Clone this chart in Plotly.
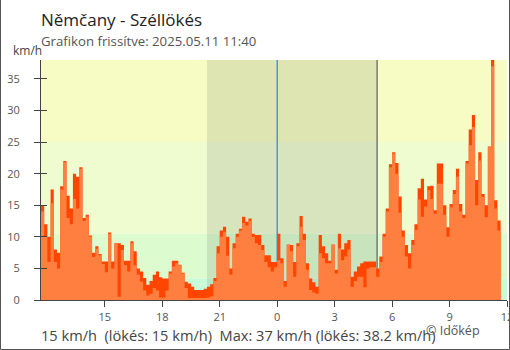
import pandas as pd
import plotly.graph_objects as go

# --- station / chart texts ---------------------------------------------------
TITLE = "Němčany - Széllökés"
SUBTITLE = "Grafikon frissítve: 2025.05.11 11:40"
UNIT = "km/h"
FOOTER = "15 km/h  (lökés: 15 km/h)  Max: 37 km/h (lökés: 38.2 km/h)"
CREDIT = "© Időkép"

# --- measurements: 10-minute steps starting at 2025-05-10 11:40 (km/h) -------
start_time = "2025-05-10 11:40"
step = "10min"

wind = [
    14.0, 10.0, 6.0, 15.3, 6.0, 5.0, 17.5, 21.8, 13.0, 12.0,
    16.0, 14.5, 20.8, 12.5, 13.2, 10.0, 6.8, 8.1, 7.1, 5.7,
    4.4, 10.5, 5.0, 8.9, 0.5, 7.9, 5.5, 4.5, 9.0, 5.5,
    4.0, 2.9, 1.5, 0.7, 1.0, 1.9, 1.5, 0.4, 0.4, 1.5,
    4.2, 5.3, 5.8, 5.5, 4.2, 1.9, 0.3, 0.3, 0.3, 0.3,
    0.3, 0.3, 0.4, 0.6, 3.0, 7.4, 10.0, 10.8, 7.0, 4.0,
    8.2, 10.0, 11.0, 12.2, 11.8, 12.5, 10.0, 9.0, 8.7, 7.9,
    6.0, 5.2, 4.5, 5.2, 6.3, 5.8, 2.1, 8.7, 7.7, 3.7,
    8.5, 11.6, 9.5, 4.8, 1.6, 1.2, 1.0, 7.4, 6.6, 5.8,
    5.8, 8.7, 4.2, 8.2, 6.3, 6.9, 8.0, 2.1, 3.0, 3.7,
    3.7, 2.0, 5.0, 5.2, 5.2, 3.7, 6.0, 10.0, 14.0, 21.0,
    23.2, 20.0, 13.8, 10.0, 6.9, 5.0, 8.7, 11.1, 15.9, 13.2,
    14.8, 17.4, 16.0, 13.7, 18.4, 18.4, 13.5, 10.0, 14.7, 16.8,
    19.5, 14.0, 13.0, 21.6, 24.5, 27.4, 15.0, 22.1, 16.3, 13.1,
    24.2, 37.0, 14.5, 11.0,
]

gust = [
    15.0, 12.0, 10.0, 17.5, 8.0, 7.5, 18.0, 22.0, 16.5, 14.5,
    20.0, 19.5, 21.0, 13.0, 13.5, 10.2, 7.5, 8.5, 7.3, 6.1,
    6.1, 10.7, 6.1, 9.0, 9.0, 8.7, 6.2, 6.2, 9.3, 7.7,
    5.0, 4.5, 3.5, 2.4, 3.0, 4.0, 4.5, 3.6, 3.4, 3.4,
    4.5, 6.2, 6.2, 5.6, 4.3, 2.9, 2.6, 2.1, 1.6, 1.6,
    1.6, 1.8, 2.1, 2.5, 3.5, 8.5, 11.0, 11.6, 10.0, 5.0,
    9.0, 10.5, 11.3, 13.2, 12.4, 12.9, 10.5, 10.3, 10.3, 8.7,
    7.1, 7.1, 6.0, 6.0, 10.5, 6.6, 3.0, 8.8, 8.7, 6.0,
    9.0, 13.3, 10.5, 5.8, 3.4, 2.8, 2.1, 10.3, 8.5, 7.4,
    6.2, 8.8, 4.8, 10.5, 8.0, 9.0, 9.5, 3.7, 4.5, 5.3,
    5.8, 6.1, 6.1, 6.1, 6.1, 5.0, 6.9, 10.5, 14.5, 21.5,
    23.4, 21.7, 16.4, 11.0, 8.7, 7.4, 9.5, 12.0, 17.7, 19.2,
    15.9, 18.0, 18.1, 14.2, 21.6, 21.6, 15.0, 11.5, 15.2, 17.4,
    20.8, 15.2, 13.5, 22.0, 27.0, 29.3, 19.0, 23.4, 16.8, 15.0,
    24.3, 38.2, 15.8, 12.6,
]

# --- background wind-strength bands (km/h) ------------------------------------
band_edges = [0, 3.4, 10.5, 25, 38]
band_colors = ["#C8FCD8", "#DCFCD0", "#EEFCD0", "#F6FCC4"]

# --- day / night markers ------------------------------------------------------
sunset = "2025-05-10 20:20"
midnight = "2025-05-11 00:00"
sunrise = "2025-05-11 05:13"

# --- axes ---------------------------------------------------------------------
x_range = ["2025-05-10 11:40", "2025-05-11 12:00"]
x_tick_vals = [
    "2025-05-10 15:00", "2025-05-10 18:00", "2025-05-10 21:00",
    "2025-05-11 00:00", "2025-05-11 03:00", "2025-05-11 06:00",
    "2025-05-11 09:00", "2025-05-11 12:00",
]
x_tick_text = ["15", "18", "21", "0", "3", "6", "9", "12"]
y_tick_vals = [0, 5, 10, 15, 20, 25, 30, 35]
y_max = 38

WIND_COLOR = "#FF7F40"
GUST_COLOR = "#FF4500"
AXIS_COLOR = "#444444"
TEXT_COLOR = "#444444"
MIDNIGHT_COLOR = "#1E88E5"
FONT = "Open Sans"

W, H = 510, 350
M = dict(l=41, r=3, t=60, b=50)
PW = W - M["l"] - M["r"]
PH = H - M["t"] - M["b"]


def px(x):
    """Figure pixel column -> paper x."""
    return (x - M["l"]) / PW


def py(y):
    """Figure pixel row -> paper y."""
    return (H - M["b"] - y) / PH


# step series: the last reading holds until the end of its interval
times = pd.date_range(start_time, periods=len(wind) + 1, freq=step)
wind_steps = wind + [wind[-1]]
gust_steps = gust + [gust[-1]]

fig = go.Figure()
fig.add_trace(go.Scatter(
    x=times, y=gust_steps, mode="lines", line=dict(width=0, shape="hv"),
    fill="tozeroy", fillcolor=GUST_COLOR, hoverinfo="skip", showlegend=False,
))
fig.add_trace(go.Scatter(
    x=times, y=wind_steps, mode="lines", line=dict(width=0, shape="hv"),
    fill="tozeroy", fillcolor=WIND_COLOR, hoverinfo="skip", showlegend=False,
))
# empty trace so the overlaid axis (inner tick marks) gets drawn
fig.add_trace(go.Scatter(x=[], y=[], yaxis="y2", hoverinfo="skip",
                         showlegend=False))

shapes = []
for lo, hi, col in zip(band_edges[:-1], band_edges[1:], band_colors):
    shapes.append(dict(type="rect", xref="paper", yref="y", x0=0, x1=1,
                       y0=lo, y1=hi, fillcolor=col, line=dict(width=0),
                       layer="below"))
shapes.append(dict(type="rect", xref="x", yref="paper", x0=sunset, x1=sunrise,
                   y0=0, y1=1, fillcolor="rgba(60,60,60,0.12)",
                   line=dict(width=0), layer="below"))
shapes.append(dict(type="line", xref="x", yref="paper", x0=midnight,
                   x1=midnight, y0=0, y1=1,
                   line=dict(color=MIDNIGHT_COLOR, width=1.2), layer="below"))
shapes.append(dict(type="line", xref="x", yref="paper", x0=sunrise,
                   x1=sunrise, y0=0, y1=1,
                   line=dict(color=AXIS_COLOR, width=1), layer="below"))
# frame around the widget (left, bottom, right)
fx0, fx1 = px(0.5), px(509.5)
fy0, fy1 = py(349.5), py(0)
shapes.append(dict(type="path", xref="paper", yref="paper",
                   path=f"M {fx0},{fy1} L {fx0},{fy0} L {fx1},{fy0} L {fx1},{fy1}",
                   line=dict(color="#555555", width=1), layer="above"))

annotations = [
    dict(text=TITLE, x=px(39), y=py(19.5), xanchor="left", yanchor="middle",
         font=dict(size=17, color="#222222", family=FONT)),
    dict(text=SUBTITLE, x=px(39), y=py(41), xanchor="left", yanchor="middle",
         font=dict(size=13.2, color="#555555", family=FONT)),
    dict(text=UNIT, x=px(11), y=py(51), xanchor="left", yanchor="middle",
         font=dict(size=12, color=TEXT_COLOR, family=FONT)),
    dict(text=FOOTER, x=px(39), y=py(335), xanchor="left", yanchor="middle",
         font=dict(size=14.6, color=TEXT_COLOR, family=FONT)),
    dict(text=CREDIT, x=px(424), y=py(330), xanchor="left", yanchor="middle",
         font=dict(size=12.5, color="#555555", family=FONT)),
]
for a in annotations:
    a.update(xref="paper", yref="paper", showarrow=False)

fig.update_layout(
    width=W, height=H, margin=M, autosize=False,
    paper_bgcolor="white", plot_bgcolor="white",
    font=dict(family=FONT, color=TEXT_COLOR),
    shapes=shapes, annotations=annotations, showlegend=False,
    xaxis=dict(
        type="date", range=x_range, tickvals=x_tick_vals, ticktext=x_tick_text,
        ticks="outside", ticklen=6, tickcolor=AXIS_COLOR, showline=True,
        linecolor=AXIS_COLOR, linewidth=1, showgrid=False, zeroline=False,
        tickfont=dict(size=11, color="#555555"), ticklabelstandoff=1,
        ticklabeloverflow="allow", automargin=False, fixedrange=True,
    ),
    yaxis=dict(
        range=[0, y_max], tickvals=y_tick_vals, ticks="outside", ticklen=6,
        tickcolor=AXIS_COLOR, showline=True, linecolor=AXIS_COLOR, linewidth=1,
        showgrid=False, zeroline=False, tickfont=dict(size=11, color="#555555"),
        ticklabelstandoff=12, automargin=False, fixedrange=True,
    ),
    yaxis2=dict(
        overlaying="y", side="left", range=[0, y_max], tickvals=y_tick_vals,
        ticks="inside", ticklen=6, tickcolor=AXIS_COLOR, showticklabels=False,
        showline=False, showgrid=False, zeroline=False, automargin=False,
        fixedrange=True,
    ),
)

fig.write_html("out.html")
